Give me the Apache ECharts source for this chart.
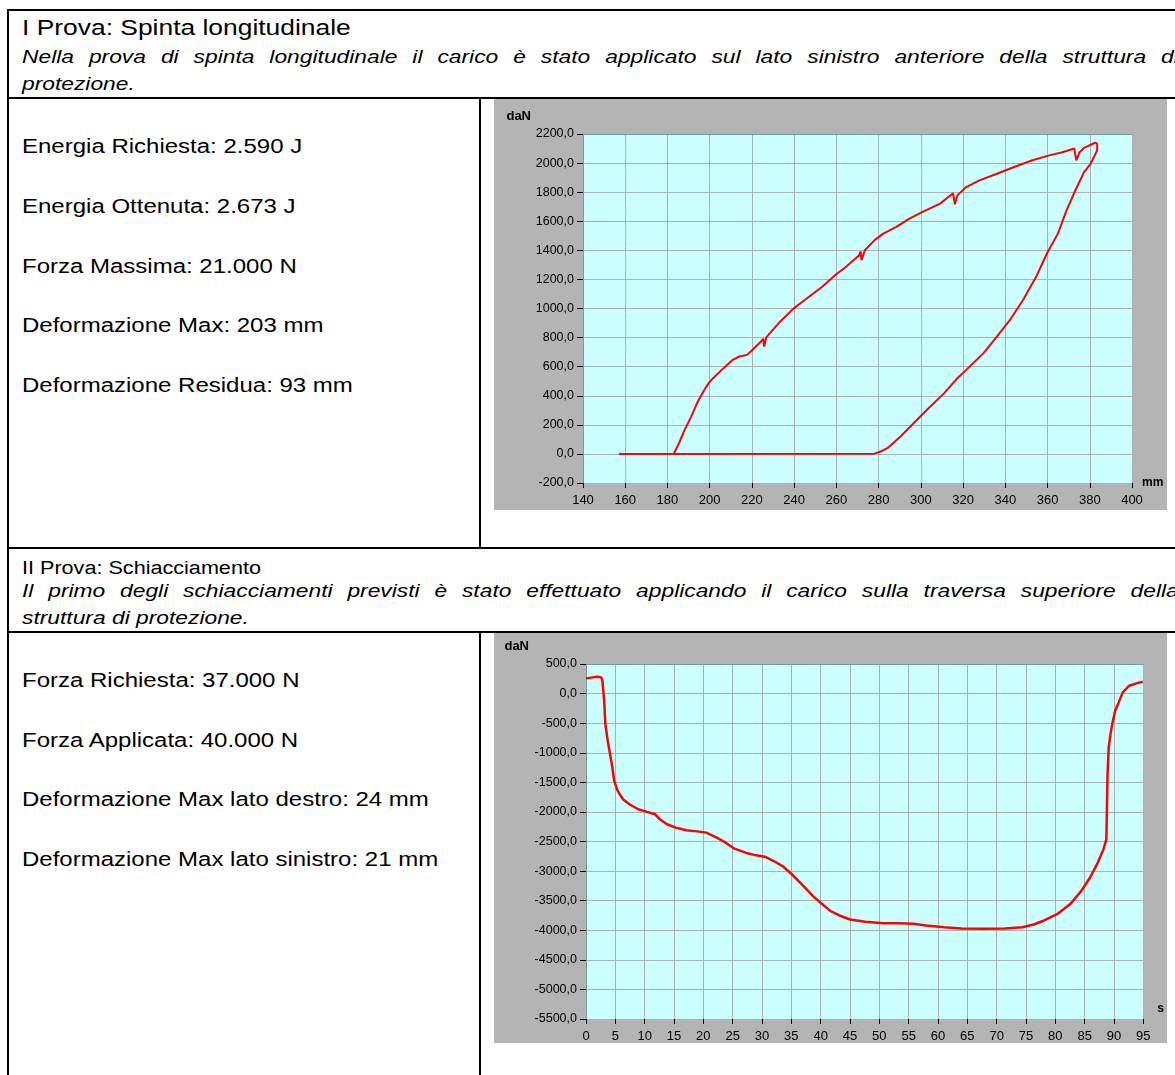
<!DOCTYPE html>
<html>
<head>
<meta charset="utf-8">
<title>Prove struttura di protezione</title>
<script src="https://cdn.jsdelivr.net/npm/echarts@6/dist/echarts.min.js"></script>
<style>
  html, body { margin: 0; padding: 0; background: #fff; }
  body { width: 1175px; height: 1075px; position: relative; overflow: hidden;
         font-family: "Liberation Sans", Arial, sans-serif; color: #000; }
  .ln { position: absolute; background: #000; }
  /* document text is set slightly wide */
  .wide { position: absolute; left: 22px; white-space: nowrap;
          transform: scaleX(1.2); transform-origin: 0 0; }
  .head1 { font-size: 22px; line-height: 24px; }
  .head2 { font-size: 18px; line-height: 22px; }
  .desc { font-style: italic; font-size: 19px; line-height: 27px; }
  .just { width: 964px; text-align: justify; text-align-last: justify; }
  .item { font-size: 20px; line-height: 24px; }
  .chart { position: absolute; left: 494px; width: 673px; }
</style>
</head>
<body>
  <!-- table rules -->
  <div class="ln" style="left:7px;top:9px;width:1168px;height:2px"></div>
  <div class="ln" style="left:7px;top:9px;width:2px;height:1066px"></div>
  <div class="ln" style="left:7px;top:97px;width:1168px;height:2px"></div>
  <div class="ln" style="left:7px;top:547px;width:1168px;height:2px"></div>
  <div class="ln" style="left:7px;top:631px;width:1168px;height:2px"></div>
  <div class="ln" style="left:479px;top:97px;width:2px;height:452px"></div>
  <div class="ln" style="left:479px;top:631px;width:2px;height:444px"></div>

  <!-- section I -->
  <div class="wide head1" style="top:16px">I Prova: Spinta longitudinale</div>
  <div class="wide desc just" style="top:43px">Nella prova di spinta longitudinale il carico è stato applicato sul lato sinistro anteriore della struttura di</div>
  <div class="wide desc" style="top:70px">protezione.</div>
  <div class="wide item" style="top:134px">Energia Richiesta: 2.590 J</div>
  <div class="wide item" style="top:194px">Energia Ottenuta: 2.673 J</div>
  <div class="wide item" style="top:254px">Forza Massima: 21.000 N</div>
  <div class="wide item" style="top:313px">Deformazione Max: 203 mm</div>
  <div class="wide item" style="top:373px">Deformazione Residua: 93 mm</div>
  <div id="c1" class="chart" style="top:99px;height:411px"></div>

  <!-- section II -->
  <div class="wide head2" style="top:557px">II Prova: Schiacciamento</div>
  <div class="wide desc just" style="top:577px">Il primo degli schiacciamenti previsti è stato effettuato applicando il carico sulla traversa superiore della</div>
  <div class="wide desc" style="top:604px">struttura di protezione.</div>
  <div class="wide item" style="top:668px">Forza Richiesta: 37.000 N</div>
  <div class="wide item" style="top:728px">Forza Applicata: 40.000 N</div>
  <div class="wide item" style="top:787px">Deformazione Max lato destro: 24 mm</div>
  <div class="wide item" style="top:847px">Deformazione Max lato sinistro: 21 mm</div>
  <div id="c2" class="chart" style="top:633px;height:410px"></div>

<script>
// Spinta longitudinale: deformazione (mm) vs forza (daN), loading then unloading
const spintaMm = [
  157, 183, 185.5, 188.2, 191.3, 194.4, 197.5, 199.5, 201.6, 205.7,
  210.9, 214.0, 217.7, 220.2, 224.3, 225.4, 225.8, 226.8, 232.6, 239.8,
  245.0, 253.3, 259.5, 264.6, 270.8, 271.5, 271.9, 273.5, 278.1, 282.2,
  288.4, 294.6, 300.8, 309.1, 315.3, 316.1, 317.3, 321.5, 327.7, 336.0,
  344.2, 352.5, 360.8, 367.0, 372.7, 373.6, 375.2, 377.3, 382.5, 383.5,
  383.5, 380.4, 377.3, 373.2, 369.0, 364.9, 359.7, 354.6, 348.4, 342.2,
  336.0, 329.7, 321.5, 317.3, 311.1, 302.9, 296.7, 290.5, 284.3, 281.2,
  278.1, 278, 157
];
const spintaDaN = [
  0, 0, 75, 167, 258, 361, 441, 487, 521, 578,
  647, 670, 681, 715, 773, 792, 738, 802, 898, 1001,
  1058, 1150, 1230, 1287, 1367, 1392, 1333, 1401, 1470, 1515,
  1561, 1618, 1664, 1721, 1792, 1717, 1778, 1835, 1881, 1927,
  1973, 2018, 2053, 2075, 2100, 2018, 2075, 2105, 2140, 2135,
  2087, 1995, 1938, 1813, 1675, 1515, 1378, 1218, 1058, 921,
  807, 693, 578, 521, 418, 304, 213, 121, 41, 18,
  2, 0, 0
];

// Schiacciamento: tempo (s) vs forza (daN)
const schiacciamentoS = [
  0, 1.1, 1.9, 2.6, 2.8, 3.1, 3.3, 3.7, 4.1, 4.5,
  4.8, 5.4, 6.3, 7.4, 8.9, 10.4, 11.8, 12.6, 13.8, 15.3,
  17.1, 19.3, 20.5, 22.3, 23.8, 25.3, 27.2, 29.0, 30.5, 32.0,
  33.5, 35.0, 36.8, 38.7, 40.2, 41.7, 43.2, 45.0, 47.6, 50.6,
  53.6, 55.8, 58.0, 61.0, 64.0, 67.7, 71.4, 74.4, 76.3, 78.1,
  80.4, 82.6, 84.4, 85.9, 87.1, 88.2, 88.7, 88.8, 88.9, 89.1,
  89.4, 89.7, 90.2, 90.8, 91.5, 92.6, 93.8, 94.9
];
const schiacciamentoDaN = [
  257, 274, 286, 274, 218, -121, -516, -798, -1024, -1250,
  -1475, -1645, -1786, -1871, -1955, -2000, -2040, -2125, -2209, -2266,
  -2311, -2333, -2350, -2435, -2520, -2621, -2689, -2734, -2757, -2830,
  -2915, -3045, -3225, -3423, -3553, -3677, -3750, -3818, -3857, -3880,
  -3880, -3891, -3919, -3948, -3970, -3976, -3970, -3948, -3903, -3835,
  -3722, -3553, -3338, -3112, -2887, -2633, -2463, -1927, -1363, -911,
  -685, -516, -290, -149, 20, 133, 173, 201
];

// axis ranges
const spintaAxis = { xMin: 140, xMax: 400, xStep: 20, yMin: -200, yMax: 2200, yStep: 200, xName: 'mm', yName: 'daN' };
const schiacciamentoAxis = { xMin: 0, xMax: 95, xStep: 5, yMin: -5500, yMax: 500, yStep: 500, xName: 's', yName: 'daN' };

function pairs(xs, ys) { return xs.map((x, i) => [x, ys[i]]); }
function commaDecimal(v) { return v.toFixed(1).replace('.', ','); }

function buildOption(ax, data, layout) {
  const gridColor = '#a9b3b3';
  return {
    animation: false,
    backgroundColor: '#b4b4b4',
    grid: { left: layout.left, right: layout.right, top: layout.top, bottom: layout.bottom,
            show: true, backgroundColor: '#ccffff', borderWidth: 0 },
    xAxis: [{
      type: 'value', min: ax.xMin, max: ax.xMax, interval: ax.xStep,
      name: ax.xName, nameLocation: 'end', nameGap: layout.xNameGap,
      nameTextStyle: { color: '#000', fontWeight: 'bold', fontSize: 12,
                       fontFamily: 'Liberation Sans', verticalAlign: layout.xNameVA, padding: layout.xNamePad },
      axisLine: { show: false, onZero: false },
      axisTick: { show: true, length: 5, lineStyle: { color: '#000' } },
      axisLabel: { color: '#000', fontSize: 13, margin: 11, fontFamily: 'Liberation Sans' },
      splitLine: { show: true, lineStyle: { color: gridColor, width: 1 } }
    }, {
      type: 'value', position: 'top', min: ax.xMin, max: ax.xMax,
      axisLine: { show: true, onZero: false, lineStyle: { color: '#6f9c9c', width: 1 } },
      axisTick: { show: false }, axisLabel: { show: false }, splitLine: { show: false }
    }],
    yAxis: {
      type: 'value', min: ax.yMin, max: ax.yMax, interval: ax.yStep,
      name: ax.yName, nameLocation: 'end', nameGap: 18,
      nameTextStyle: { color: '#000', fontWeight: 'bold', fontSize: 13, fontFamily: 'Liberation Sans',
                       align: 'right', verticalAlign: 'middle', padding: [0, layout.yNamePad, 0, 0] },
      axisLine: { show: true, onZero: false, lineStyle: { color: '#6f9c9c', width: 1 } },
      axisTick: { show: true, length: 6, lineStyle: { color: '#000' } },
      axisLabel: { color: '#000', fontSize: 12.5, margin: 9, fontFamily: 'Liberation Sans',
                   formatter: commaDecimal },
      splitLine: { show: true, lineStyle: { color: gridColor, width: 1 } }
    },
    series: [{
      type: 'line', xAxisIndex: 0, data: data, symbol: 'none', showSymbol: false,
      lineStyle: { color: '#ff0000', width: layout.lineWidth }, z: 5
    }]
  };
}

const chart1 = echarts.init(document.getElementById('c1'));
chart1.setOption(buildOption(spintaAxis, pairs(spintaMm, spintaDaN), {
  left: 89, right: 35, top: 35, bottom: 27, xNameGap: 10, xNameVA: 'middle', xNamePad: [0, 0, 4, 0],
  yNamePad: 52, lineWidth: 2
}));

const chart2 = echarts.init(document.getElementById('c2'));
chart2.setOption(buildOption(schiacciamentoAxis, pairs(schiacciamentoS, schiacciamentoDaN), {
  left: 92, right: 21, top: 31, bottom: 23, xNameGap: 14, xNameVA: 'bottom', xNamePad: [0, 0, 4, 0],
  yNamePad: 57, lineWidth: 2.5
}));
</script>
</body>
</html>
